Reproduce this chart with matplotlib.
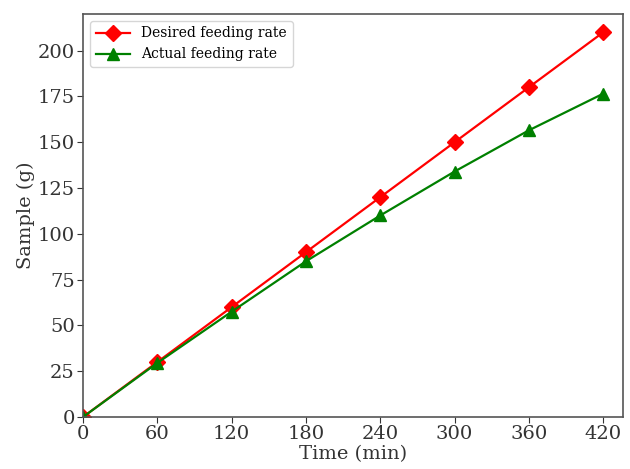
import matplotlib
matplotlib.use("Agg")
import matplotlib.pyplot as plt

time_min = [0, 60, 120, 180, 240, 300, 360, 420]
desired = [0, 30, 60, 90, 120, 150, 180, 210]
actual = [0, 29.5, 57.5, 85, 110, 134, 156.5, 176.5]
xticks = [0, 60, 120, 180, 240, 300, 360, 420]

plt.rcParams['font.family'] = ['DejaVu Serif']
fig = plt.figure(figsize=(6.3, 4.69), dpi=100)
ax = fig.add_axes([83/630, 1-417/469, 540/630, 403/469])

ax.plot(time_min, desired, color='red', marker='D', markersize=8.5, linewidth=1.6, label='Desired feeding rate')
ax.plot(time_min, actual, color='green', marker='^', markersize=8.5, linewidth=1.6, label='Actual feeding rate')

ax.set_xlim(0, 436)
ax.set_ylim(0, 220)
ax.set_xticks(xticks)
ax.set_yticks(range(0, 201, 25))
ax.tick_params(labelsize=14, colors='#333333', length=4, pad=2)
for s in ax.spines.values():
    s.set_color('#555555')
    s.set_linewidth(1.2)
ax.set_xlabel('Time (min)', fontsize=14, color='#333333', labelpad=1)
ax.set_ylabel('Sample (g)', fontsize=14, color='#333333', labelpad=2)
ax.legend(loc='upper left', fontsize=10, frameon=True, handlelength=2.5)

fig.savefig('out.png', dpi=100)
